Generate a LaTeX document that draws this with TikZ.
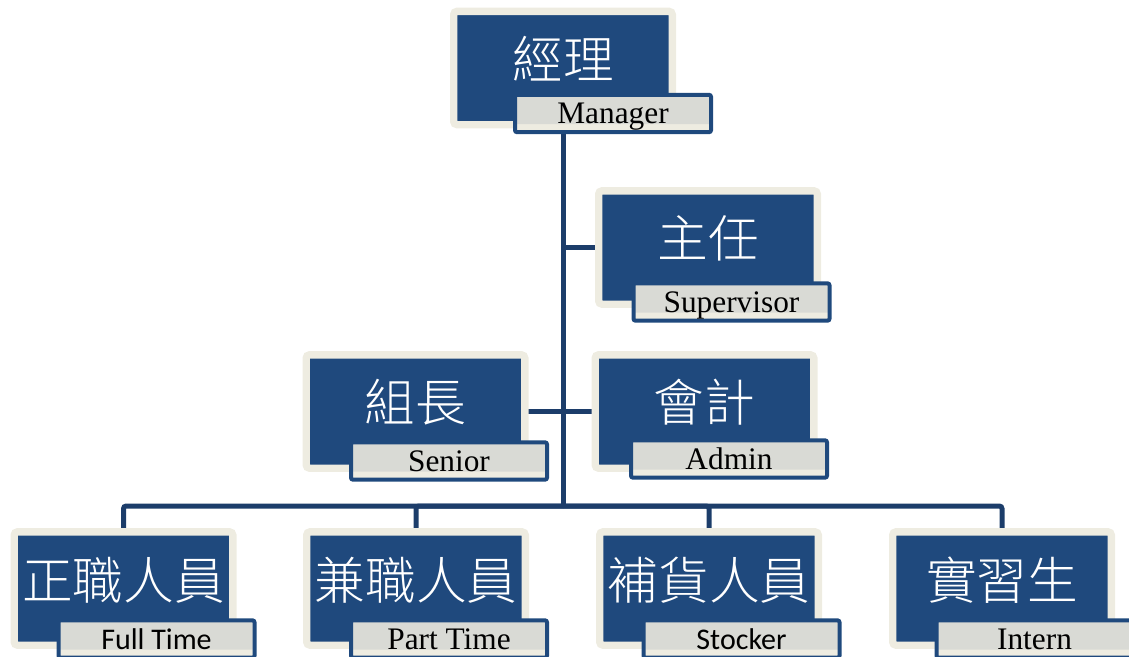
\documentclass[tikz,border=0pt]{standalone}
\usepackage{fontspec}
\setmainfont{Liberation Serif}
\newfontfamily\cjk{Noto Sans CJK TC}[UprightFont={* Light}]
\newfontfamily\cali{Carlito}
\usetikzlibrary{shadows,backgrounds}
\definecolor{boxblue}{HTML}{1F497D}
\definecolor{cream}{HTML}{EEECE1}
\definecolor{band}{HTML}{D9DAD5}
\definecolor{wirecol}{HTML}{1C3D6A}
\tikzset{
  post/.style={draw=cream, fill=boxblue, line width=5.5pt, rounded corners=2.5pt,
    minimum width=164pt, minimum height=85pt, inner sep=0pt, outer sep=0pt,
    drop shadow={shadow xshift=1.2pt, shadow yshift=-1.5pt, opacity=.3}},
  title/.style={text=white, font=\cjk\fontsize{38}{38}\selectfont, inner sep=0pt},
  tag/.style={draw=boxblue, fill=cream, line width=3pt, rounded corners=1.5pt,
    minimum width=147pt, minimum height=28pt, inner sep=0pt,
    text height=15pt, text depth=0pt, font=\fontsize{23.5}{23.5}\selectfont,
    path picture={\fill[band] (path picture bounding box.north west)
      rectangle ([yshift=6pt]path picture bounding box.south east);}},
  wire/.style={draw=wirecol, line width=3.75pt, rounded corners=2pt}
}
\begin{document}
\begin{tikzpicture}[x=0.75pt, y=-0.75pt]
\useasboundingbox (0,0) rectangle (1129,657);
% positions
\node[post] (mgr) at (563,68) {};
\node[post] (sup) at (708,247.5) {};
\node[post] (sen) at (415.5,411.5) {};
\node[post] (adm) at (704.5,411.5) {};
\node[post] (ft) at (123.5,588.5) {};
\node[post] (pt) at (416,588.5) {};
\node[post] (st) at (709,588.5) {};
\node[post] (in) at (1002,588.5) {};
% titles
\node[title] (mgrT) at ([yshift=7pt]mgr.center) {經理};
\node[title] (supT) at ([yshift=7pt]sup.center) {主任};
\node[title] (senT) at ([yshift=7pt]sen.center) {組長};
\node[title] (admT) at ([yshift=7pt]adm.center) {會計};
\node[title] (ftT) at ([yshift=6.5pt]ft.center) {正職人員};
\node[title] (ptT) at ([yshift=6.5pt]pt.center) {兼職人員};
\node[title] (stT) at ([yshift=6.5pt]st.center) {補貨人員};
\node[title] (inT) at ([yshift=6.5pt]in.center) {實習生};
% tags
\node[tag] (mgrL) at (613,113.5) {Manager};
\node[tag] (supL) at (731.5,302) {Supervisor};
\node[tag] (senL) at (449,461) {Senior};
\node[tag] (admL) at (729,459) {Admin};
\node[tag, font=\cali\fontsize{22.5}{22.5}\selectfont] (ftL) at (156.5,639) {Full Time};
\node[tag] (ptL) at (449,639) {Part Time};
\node[tag, font=\cali\fontsize{22.5}{22.5}\selectfont] (stL) at (741.5,639) {Stocker};
\node[tag] (inL) at (1034.5,639) {Intern};
% connectors
\begin{scope}[on background layer]
\coordinate (bus) at (563,506);
\draw[wire] (mgr) -- (bus);
\draw[wire] (sup.west) -- (sup.west -| mgr);
\draw[wire] (sen.east) -- (adm.west);
\draw[wire] (bus) -| (ft.north);
\draw[wire] (bus) -| (pt.north);
\draw[wire] (bus) -| (st.north);
\draw[wire] (bus) -| (in.north);
\end{scope}
\end{tikzpicture}
\end{document}
